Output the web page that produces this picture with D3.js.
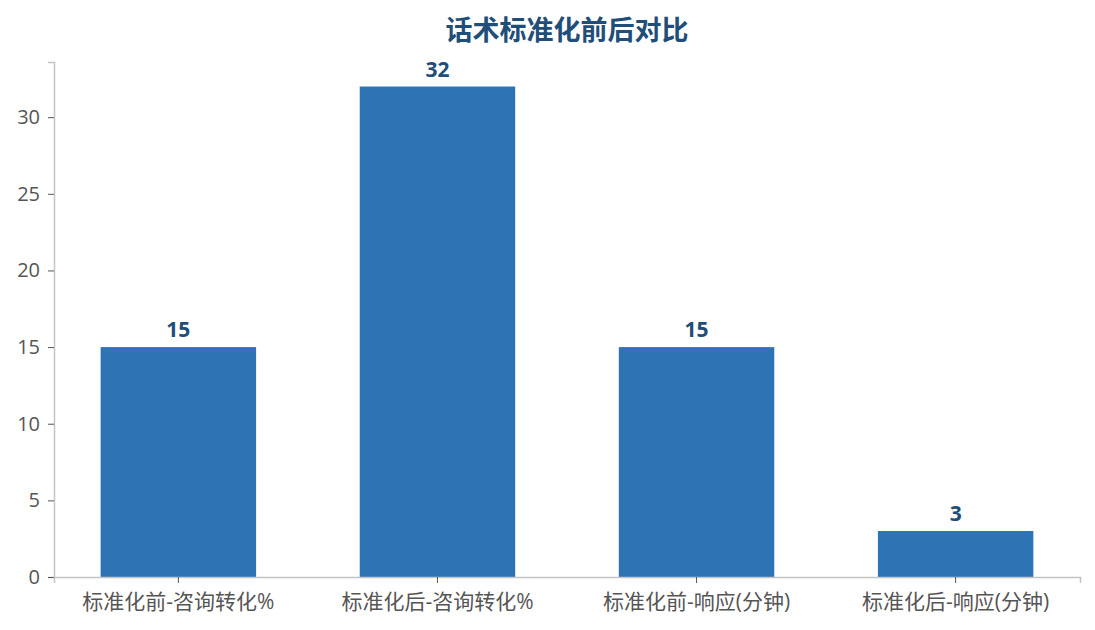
<!DOCTYPE html>
<html>
<head>
<meta charset="utf-8">
<script src="https://cdn.jsdelivr.net/npm/d3@7"></script>
<style>
  body { margin: 0; background: #fff; }
  text { font-family: "Open Sans", "Noto Sans CJK SC", sans-serif; }
</style>
</head>
<body>
<div id="chart"></div>
<script>
const categories = ['标准化前-咨询转化%', '标准化后-咨询转化%', '标准化前-响应(分钟)', '标准化后-响应(分钟)'];
const values = [15, 32, 15, 3];
const yTicks = [0, 5, 10, 15, 20, 25, 30];
const title = '话术标准化前后对比';

const width = 1095, height = 630;
const margin = { top: 62, right: 15, bottom: 53, left: 54 };
const fontStack = '"Open Sans", "Noto Sans CJK SC", sans-serif';

const svg = d3.select('#chart')
  .append('svg')
  .attr('width', width)
  .attr('height', height);

const x = d3.scaleBand()
  .domain(categories)
  .range([margin.left, width - margin.right])
  .paddingInner(0.4)
  .paddingOuter(0.18);

const y = d3.scaleLinear()
  .domain([0, d3.max(values) * 1.05])
  .range([height - margin.bottom, margin.top]);

// title
svg.append('text')
  .attr('x', 567)
  .attr('y', 40)
  .attr('text-anchor', 'middle')
  .attr('font-size', 27)
  .attr('font-weight', 'bold')
  .attr('fill', '#1f4e79')
  .style('font-family', '"Noto Sans CJK SC", sans-serif')
  .text(title);

// bars
svg.selectAll('rect.bar')
  .data(values)
  .enter()
  .append('rect')
  .attr('class', 'bar')
  .attr('x', (d, i) => x(categories[i]))
  .attr('y', d => y(d))
  .attr('width', x.bandwidth())
  .attr('height', d => y(0) - y(d))
  .attr('fill', '#2e74b5');

// value labels
svg.selectAll('text.value')
  .data(values)
  .enter()
  .append('text')
  .attr('class', 'value')
  .attr('x', (d, i) => x(categories[i]) + x.bandwidth() / 2)
  .attr('y', d => y(d) - 10)
  .attr('text-anchor', 'middle')
  .attr('font-size', 21)
  .attr('font-weight', 'bold')
  .attr('fill', '#1f4e79')
  .text(d => d);

// axes
const yAxis = svg.append('g')
  .attr('transform', `translate(${margin.left},0)`)
  .call(d3.axisLeft(y).tickValues(yTicks).tickSize(6).tickPadding(8));

const xAxis = svg.append('g')
  .attr('transform', `translate(0,${height - margin.bottom})`)
  .call(d3.axisBottom(x).tickSize(6).tickPadding(11));

[yAxis, xAxis].forEach(g => {
  g.select('.domain').attr('stroke', '#c4c4c4').attr('stroke-width', 1.5);
  g.selectAll('.tick line').attr('stroke', '#555');
  g.selectAll('.tick text')
    .attr('fill', '#555')
    .style('font-family', fontStack);
});
yAxis.selectAll('.tick text').attr('font-size', 20);
xAxis.selectAll('.tick text').attr('font-size', 21);
</script>
</body>
</html>
